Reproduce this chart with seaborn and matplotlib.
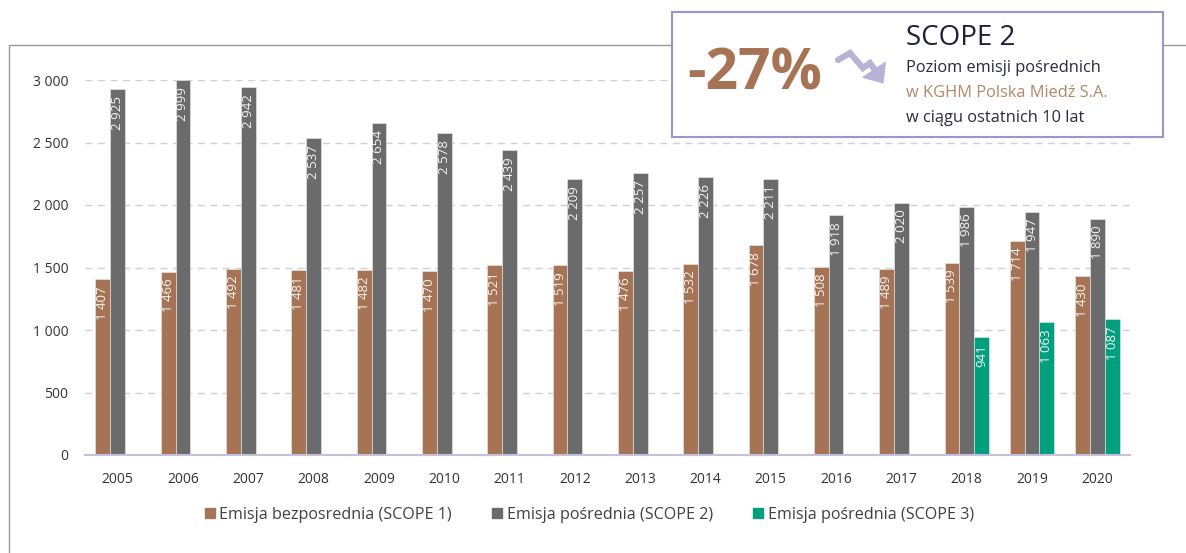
import matplotlib
matplotlib.use("Agg")
import matplotlib.pyplot as plt
import seaborn as sns
import pandas as pd
import numpy as np
from matplotlib.patches import Rectangle, FancyArrowPatch
from matplotlib.lines import Line2D

years = [str(y) for y in range(2005, 2021)]
scope1 = [1407, 1466, 1492, 1481, 1482, 1470, 1521, 1519, 1476, 1532, 1678, 1508, 1489, 1539, 1714, 1430]
scope2 = [2925, 2999, 2942, 2537, 2654, 2578, 2439, 2209, 2257, 2226, 2211, 1918, 2020, 1986, 1947, 1890]
scope3 = [np.nan] * 13 + [941, 1063, 1087]
series_names = ["Emisja bezposrednia (SCOPE 1)", "Emisja pośrednia (SCOPE 2)", "Emisja pośrednia (SCOPE 3)"]
colors = ["#A67454", "#6B6B6B", "#00A07F"]

df = pd.DataFrame({
    "year": years * 3,
    "value": scope1 + scope2 + scope3,
    "series": [series_names[0]] * 16 + [series_names[1]] * 16 + [series_names[2]] * 16,
})

sns.set_style("white")
plt.rcParams["font.family"] = ["Open Sans", "DejaVu Sans"]

fig = plt.figure(figsize=(11.86, 5.53), dpi=100)
ax = fig.add_axes([85 / 1186, 1 - 455 / 553, 1045 / 1186, 375 / 553])

sns.barplot(data=df, x="year", y="value", hue="series", palette=colors, saturation=1,
            width=0.68, edgecolor="#eeeeee", linewidth=0.4, ax=ax, legend=False)

ax.set_xlim(-0.5, 15.5)
ax.set_ylim(0, 3000)
ax.set_yticks(range(0, 3001, 500))
ax.set_yticklabels([f"{v:,}".replace(",", " ") for v in range(0, 3001, 500)])
ax.yaxis.grid(True, linestyle=(0, (5, 4)), color="#d0d0d0", linewidth=1)
ax.set_axisbelow(True)
for s in ["top", "right", "left"]:
    ax.spines[s].set_visible(False)
ax.spines["bottom"].set_color("#c5c0dd")
ax.spines["bottom"].set_linewidth(1.5)
ax.tick_params(axis="y", length=0, labelsize=10, colors="#333333", pad=12)
ax.tick_params(axis="x", length=0, labelsize=10, colors="#333333", pad=12)
ax.set_xlabel("")
ax.set_ylabel("")

# value labels inside bars, near the top
for cont in ax.containers:
    for rect, v in zip(cont, cont.datavalues):
        if np.isnan(v):
            continue
        ax.annotate(f"{int(v):,}".replace(",", " "), (rect.get_x() + rect.get_width() / 2, v),
                    xytext=(0, -5), textcoords="offset points", rotation=90,
                    ha="center", va="top", color="#f4f4f4", fontsize=9.5)

# legend
handles = [Rectangle((0, 0), 1, 1, color=c) for c in colors]
fig.legend(handles, series_names, loc="center", bbox_to_anchor=(0.497, 1 - 515 / 553),
           ncol=3, frameon=False, fontsize=11.6, handlelength=0.6, handleheight=0.6,
           handletextpad=0.3, columnspacing=2.5, labelcolor="#404040")

# outer frame lines
fig.add_artist(Line2D([9 / 1186, 672 / 1186], [1 - 45 / 553] * 2, color="#999999", lw=1))
fig.add_artist(Line2D([1163 / 1186, 1], [1 - 45 / 553] * 2, color="#999999", lw=1))
fig.add_artist(Line2D([9 / 1186] * 2, [0, 1 - 45 / 553], color="#999999", lw=1))

# info box
fig.add_artist(Rectangle((672 / 1186, 1 - 137 / 553), 491 / 1186, 125 / 553,
                         transform=fig.transFigure, facecolor="white", edgecolor="#9d95c8", lw=1.5))
fig.text(755 / 1186, 1 - 75 / 553, "-27%", fontsize=41, fontweight="bold", color="#A67454",
         ha="center", va="center")
zig_x = [838, 850, 863, 870, 879]
zig_y = [60, 53, 68, 63, 76]
fig.add_artist(Line2D([x / 1186 for x in zig_x], [1 - y / 553 for y in zig_y],
                      color="#b8b3d6", lw=4.5, solid_joinstyle="miter"))
fig.add_artist(FancyArrowPatch((875 / 1186, 1 - 71 / 553), (885 / 1186, 1 - 86 / 553),
                               transform=fig.transFigure, arrowstyle="-|>,head_length=7,head_width=6",
                               color="#b8b3d6", lw=1, mutation_scale=1.6))
fig.text(906 / 1186, 1 - 38 / 553, "SCOPE 2", fontsize=20, color="#1f1f3a", va="center")
fig.text(906 / 1186, 1 - 68 / 553, "Poziom emisji pośrednich", fontsize=11.8, color="#2a2a40", va="center")
fig.text(906 / 1186, 1 - 93 / 553, "w KGHM Polska Miedź S.A.", fontsize=11.8, color="#b08868", va="center")
fig.text(906 / 1186, 1 - 118 / 553, "w ciągu ostatnich 10 lat", fontsize=11.8, color="#2a2a40", va="center")

fig.savefig("out.png", dpi=100)
